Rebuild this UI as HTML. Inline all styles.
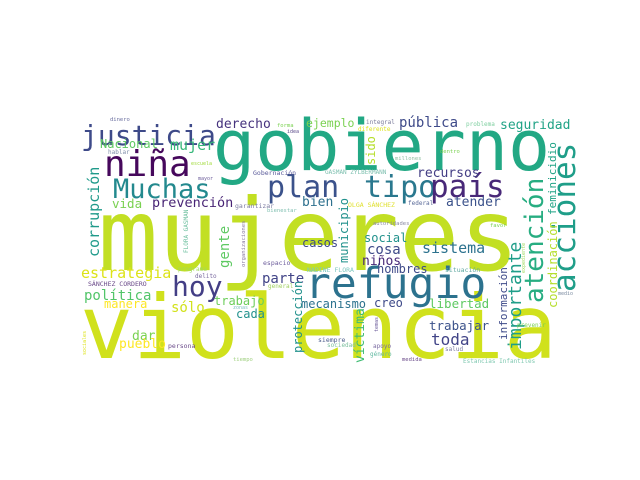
<!DOCTYPE html>
<html><head><meta charset="utf-8">
<style>
html,body{margin:0;padding:0;background:#fff;}
svg{display:block;}
text{font-family:"DejaVu Sans Mono","Liberation Mono",monospace;}
</style></head>
<body>
<svg id="cloud" width="640" height="480" viewBox="0 0 640 480" xmlns="http://www.w3.org/2000/svg">
<rect x="0" y="0" width="640" height="480" fill="#ffffff"/>
</svg>
<script>
const words = ["mujeres","violencia","gobierno","refugio","justicia","niña","Muchas","plan","tipo","país","acciones","atención","hoy","Nacional","mujer","derecho","ejemplo","pública","seguridad","sido","recursos","feminicidio","coordinación","corrupción","vida","prevención","bien","atender","gente","municipio","casos","social","cosa","niños","sistema","hombres","estrategia","parte","política","manera","sólo","trabajo","protección","mecanismo","creo","libertad","cada","información","importante","trabajar","toda","víctima","dar","pueblo","dinero","forma","idea","hablar","escuela","mayor","Gobernación","integral","diferente","problema","dentro","millones","GASMAN ZYLBERMANN","garantizar","bienestar","OLGA SÁNCHEZ","federal","autoridades","favor","FLORA GASMAN","organizaciones","espacio","programa","NADINE FLORA","situación","delito","SÁNCHEZ CORDERO","general","zonas","expediente","prevenir","medio","temas","sociales","persona","siempre","sociedad","apoyo","género","salud","tiempo","medida","Estancias Infantiles"];
const sizes = [100,88,70,43,28,36,27,30,30,31,31,26,28,12,15,13,11.5,14,13,12,13,11,12,15,12.5,13.5,13,13,14,12,12,12,14,13,15,12,15,14,14,12,14,12,12,12,12,12.5,12,11,18,12.5,16,13,13,13,5.5,5.5,5,6,5,5,6.5,6,6,6,5.5,5.5,6,6.5,5.5,6.5,6,5.5,5.5,6,5.5,6.5,6,6.5,6.5,6,6.5,6,5,5,6,5,5,5,6.5,6.5,6,6,6,6,5.5,5.5,6];
const colors = ["#c2df23","#d0e11c","#22a884","#2c728e","#3e4a89","#46085c","#23898e","#3b528b","#2a788e","#482878","#1f9e89","#27ad81","#433e85","#5ec962","#35b779","#46337e","#7ad151","#3e4a89","#20a386","#b5de2b","#433d84","#20a386","#b5de2b","#1f9a8a","#7ad151","#482475","#2d708e","#3b528b","#5ec962","#21918c","#3e4a89","#21918c","#3e4a89","#482878","#2c728e","#3e4a89","#dde318","#414487","#52c569","#fde725","#d2e21b","#6ccd5a","#21918c","#2c728e","#3e4a89","#5ec962","#21918c","#3e4a89","#1f9e89","#3b528b","#414487","#3fbc73","#7ad151","#fde725","#6b6fa0","#7ad151","#5b4b8a","#7f8faa","#a0da39","#6b5b9a","#5b5b9a","#7a7a9a","#dde318","#7fcfa0","#7ad151","#8fbfa0","#7fc0b0","#7a7aa0","#7fbfb0","#e0e030","#5b6b9a","#8a8aa0","#7ad151","#6fc0a0","#8a7aa0","#6b5b9a","#a0da60","#7fc8c0","#5fa8a0","#7a6aa0","#6b4b8a","#a0d060","#7fc0c0","#a0da60","#7ad151","#7a8aa0","#6b5b9a","#dde318","#6b4b8a","#4b5b8a","#7fc0a0","#7a6aa0","#5fb8a0","#7a7aa0","#a0d080","#6b4b8a","#7fc8b0"];
// layout: [x, baseline y, rotated(-90)?]
const layout = [[98,270,0],[80,358,0],[213,170,0],[305,298,0],[81,145,0],[104,176,0],[113,198,0],[267,197,0],[364,197,0],[430,197,0],[575,292,1],[543,303,1],[172,296,0],[100,148,0],[170,150,0],[216,128,0],[306,127,0],[399,127,0],[500,129,0],[375,165,1],[417,177,0],[556,215,1],[557,308,1],[99,257,1],[112,208,0],[152,207,0],[302,206,0],[446,206,0],[229,268,1],[348,263,1],[302,247,0],[364,242,0],[367,254,0],[362,265,0],[422,253,0],[377,273,0],[81,278,0],[262,283,0],[84,300,0],[104,308,0],[171,312,0],[214,305,0],[302,353,1],[301,308,0],[374,307,0],[429,308,0],[236,318,0],[507,340,1],[521,350,1],[429,330,0],[431,345,0],[364,363,1],[132,340,0],[119,348,0],[110,121,0],[277,127,0],[287,133,0],[108,154,0],[191,165,0],[198,180,0],[253,175,0],[366,124,0],[358,131,0],[466,126,0],[440,153,0],[395,160,0],[325,174,0],[235,208,0],[267,212,0],[348,207,0],[408,205,0],[373,225,0],[490,227,0],[188,253,1],[245,267,1],[263,265,0],[178,271,0],[307,272,0],[445,272,0],[195,278,0],[88,286,0],[268,288,0],[233,309,0],[525,273,1],[517,327,0],[558,295,0],[378,332,1],[86,355,1],[168,348,0],[318,342,0],[327,347,0],[373,348,0],[370,356,0],[445,351,0],[233,361,0],[402,361,0],[463,363,0]];
const svg = document.getElementById('cloud');
const NS = 'http://www.w3.org/2000/svg';
for (let i = 0; i < words.length; i++) {
  const t = document.createElementNS(NS, 'text');
  const x = layout[i][0], y = layout[i][1];
  t.setAttribute('x', x);
  t.setAttribute('y', y);
  t.setAttribute('font-size', sizes[i]);
  t.setAttribute('fill', colors[i]);
  if (layout[i][2]) t.setAttribute('transform', 'rotate(-90 ' + x + ' ' + y + ')');
  
  
  t.textContent = words[i];
  svg.appendChild(t);
}
</script>
</body></html>
